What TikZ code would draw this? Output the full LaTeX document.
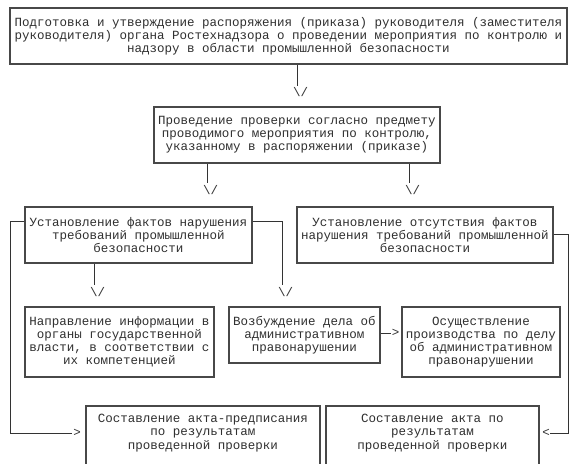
\documentclass[tikz,border=0pt]{standalone}
\usepackage{fontspec}
\newfontfamily\cour{Liberation Mono}
\definecolor{txt}{HTML}{303030}
\definecolor{bord}{HTML}{484848}
\definecolor{lnc}{HTML}{333333}
\begin{document}
\begin{tikzpicture}[x=1bp,y=-1bp,
  every node/.style={font=\cour\fontsize{12.5bp}{13bp}\selectfont, text=txt},
  box/.style={draw=bord, line width=1.3bp, inner sep=0pt, align=center, rectangle},
  ln/.style={draw=lnc, line width=1bp},
  tip/.style={inner sep=0pt, text=lnc}
]
\useasboundingbox (0,0) rectangle (576,464);
\clip (0,0) rectangle (576,464);
\fill[white] (0,0) rectangle (576,464);

% boxes
\node[box, minimum width=557bp, minimum height=56bp] (A) at (288.5,36)
  {Подготовка и утверждение распоряжения (приказа) руководителя (заместителя\\
   руководителя) органа Ростехнадзора о проведении мероприятия по контролю и\\
   надзору в области промышленной безопасности};
\node[box, minimum width=286bp, minimum height=56bp] (B) at (297,135)
  {Проведение проверки согласно предмету\\
   проводимого мероприятия по контролю,\\
   указанному в распоряжении (приказе)};
\node[box, minimum width=227bp, minimum height=56bp] (C) at (138.5,235)
  {Установление фактов нарушения\\
   требований промышленной\\
   безопасности};
\node[box, minimum width=256bp, minimum height=56bp] (D) at (425,235)
  {Установление отсутствия фактов\\
   нарушения требований промышленной\\
   безопасности};
\node[box, minimum width=189bp, minimum height=70bp] (E) at (119.5,342)
  {Направление информации в\\
   органы государственной\\
   власти, в соответствии с\\
   их компетенцией};
\node[box, minimum width=151bp, minimum height=56bp] (F) at (304.5,335)
  {Возбуждение дела об\\
   административном\\
   правонарушении};
\node[box, minimum width=158bp, minimum height=70bp] (G) at (481,342)
  {Осуществление\\
   производства по делу\\
   об административном\\
   правонарушении};
\node[box, minimum width=234bp, minimum height=84bp] (H) at (203,448) {};
\node[inner sep=0pt, align=center, font=\cour\fontsize{12.5bp}{13.5bp}\selectfont] (Ht) at (203,433)
  {Составление акта-предписания\\
   по результатам\\
   проведенной проверки};
\node[box, minimum width=213bp, minimum height=84bp] (I) at (432.5,448) {};
\node[inner sep=0pt, align=center, font=\cour\fontsize{12.5bp}{13.5bp}\selectfont] (It) at (432.5,433)
  {Составление акта по\\
   результатам\\
   проведенной проверки};

% A -> B
\coordinate (a1) at (297,86);
\draw[ln] (A.south -| a1) -- (a1);
\node[tip] (ta1) at (300.5,92) {\textbackslash/};

% B -> C, B -> D
\coordinate (b1) at (207,183);
\draw[ln] (B.south -| b1) -- (b1);
\node[tip] (tb1) at (210.5,190) {\textbackslash/};
\coordinate (b2) at (409,183);
\draw[ln] (B.south -| b2) -- (b2);
\node[tip] (tb2) at (412.5,190) {\textbackslash/};

% C -> E
\coordinate (c1) at (94,285);
\draw[ln] (C.south -| c1) -- (c1);
\node[tip] (tc1) at (97.5,292) {\textbackslash/};

% C -> F
\coordinate (c2) at (282,222);
\coordinate (c3) at (282,285);
\draw[ln] (C.east |- c2) -- (c2) -- (c3);
\node[tip] (tc3) at (285.5,292) {\textbackslash/};

% C -> H
\coordinate (c4) at (10,222);
\coordinate (c5) at (10,433);
\coordinate (c6) at (72,433);
\draw[ln] (C.west |- c4) -- (c4) -- (c5) -- (c6);
\node[tip] (tc6) at (77,433) {>};

% D -> I
\coordinate (d1) at (568,235);
\coordinate (d2) at (568,433);
\coordinate (d3) at (550,433);
\draw[ln] (D.east) -- (d1) -- (d2) -- (d3);
\node[tip] (td3) at (546,433) {<};

% F -> G
\coordinate (f1) at (391,333);
\draw[ln] (F.east |- f1) -- (f1);
\node[tip] (tf1) at (395.5,333) {>};
\end{tikzpicture}
\end{document}
